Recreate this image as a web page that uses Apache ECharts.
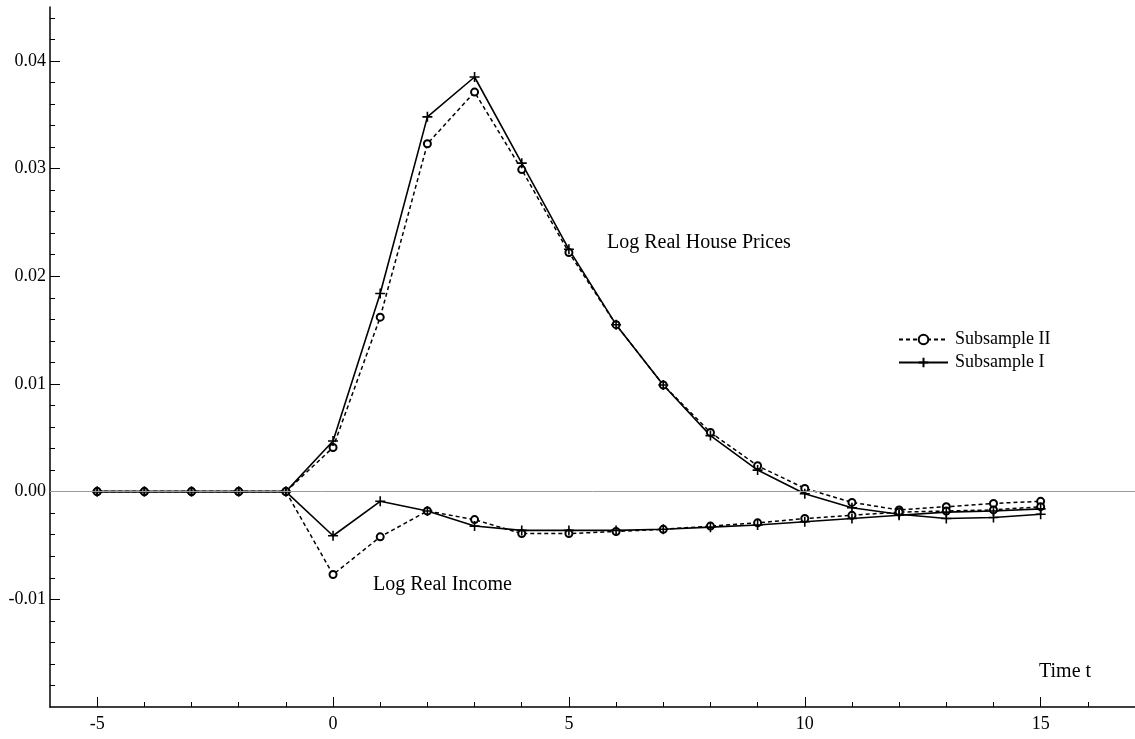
<!DOCTYPE html>
<html lang="en">
<head>
    <meta charset="UTF-8">
    <title>Impulse responses</title>
    <script src="https://cdn.jsdelivr.net/npm/echarts@6/dist/echarts.min.js"></script>
    <style>
        html, body { margin: 0; padding: 0; background: #fff; }
    </style>
</head>
<body>
<div id="main" style="width: 1135px;height: 739px"></div>
</body>

<script>
    var t = [-5, -4, -3, -2, -1, 0, 1, 2, 3, 4, 5, 6, 7, 8, 9, 10, 11, 12, 13, 14, 15];

    // log real house prices
    var houseI = [0, 0, 0, 0, 0, 0.0047, 0.0184, 0.0348, 0.0385, 0.0305, 0.0225, 0.0155, 0.0099, 0.0052, 0.0020, -0.0002, -0.0015, -0.0021, -0.0025, -0.0024, -0.0021];
    var houseII = [0, 0, 0, 0, 0, 0.0041, 0.0162, 0.0323, 0.0371, 0.0299, 0.0222, 0.0155, 0.0099, 0.0055, 0.0024, 0.0003, -0.0010, -0.0017, -0.0014, -0.0011, -0.0009];

    // log real income
    var incomeI = [0, 0, 0, 0, 0, -0.0041, -0.0009, -0.0018, -0.0032, -0.0036, -0.0036, -0.0036, -0.0035, -0.0033, -0.0031, -0.0028, -0.0025, -0.0022, -0.0019, -0.0018, -0.0016];
    var incomeII = [0, 0, 0, 0, 0, -0.0077, -0.0042, -0.0018, -0.0026, -0.0039, -0.0039, -0.0037, -0.0035, -0.0032, -0.0029, -0.0025, -0.0022, -0.0019, -0.0018, -0.0017, -0.0014];

    var xMajor = [-5, 0, 5, 10, 15];
    var xMinor = [-4, -3, -2, -1, 1, 2, 3, 4, 6, 7, 8, 9, 11, 12, 13, 14, 16];
    var yMajor = [-0.01, 0, 0.01, 0.02, 0.03, 0.04];
    var yMinor = [-0.018, -0.016, -0.014, -0.012, -0.008, -0.006, -0.004, -0.002,
        0.002, 0.004, 0.006, 0.008, 0.012, 0.014, 0.016, 0.018,
        0.022, 0.024, 0.026, 0.028, 0.032, 0.034, 0.036, 0.038, 0.042, 0.044];

    var FONT = 'Liberation Serif';
    var PLUS = 'path://M5,0 L5,10 M0,5 L10,5';

    function pairs(ys) {
        var out = [];
        for (var i = 0; i < t.length; i++) out.push([t[i], ys[i]]);
        return out;
    }

    var dashedSeries = function (data) {
        return {
            name: 'Subsample II',
            type: 'line',
            data: pairs(data),
            symbol: 'emptyCircle',
            symbolSize: 7,
            lineStyle: {color: '#000', width: 1.5, type: [4, 3]},
            itemStyle: {color: '#000', borderWidth: 1.3}
        };
    };
    var solidSeries = function (data) {
        return {
            name: 'Subsample I',
            type: 'line',
            data: pairs(data),
            symbol: PLUS,
            symbolSize: 10,
            lineStyle: {color: '#000', width: 1.6, type: 'solid'},
            itemStyle: {color: '#000', borderColor: '#000', borderWidth: 1.6}
        };
    };

    var myChart = echarts.init(document.getElementById('main'));

    var house2 = dashedSeries(houseII);
    // horizontal zero line
    house2.markLine = {
        silent: true,
        symbol: 'none',
        label: {show: false},
        lineStyle: {color: '#9a9a9a', width: 1, type: 'solid'},
        data: [{yAxis: 0}]
    };

    var option = {
        animation: false,
        backgroundColor: '#fff',
        grid: {left: 50, right: -3, top: 7, bottom: 32, containLabel: false},
        legend: {
            orient: 'vertical',
            left: 893,
            top: 323,
            itemWidth: 49,
            itemHeight: 12,
            itemGap: 0,
            data: ['Subsample II', 'Subsample I'],
            textStyle: {fontFamily: FONT, fontSize: 18, color: '#000', lineHeight: 23, padding: [0, 0, 0, 2]}
        },
        xAxis: [{
            type: 'value',
            min: -6,
            max: 17,
            position: 'bottom',
            splitLine: {show: false},
            axisLine: {show: true, onZero: false, lineStyle: {color: '#000', width: 1.5}},
            axisTick: {show: true, inside: true, length: 10, customValues: xMajor, lineStyle: {color: '#000', width: 1}},
            axisLabel: {customValues: xMajor, margin: 8, fontFamily: FONT, fontSize: 18, color: '#000'}
        }, {
            type: 'value',
            min: -6,
            max: 17,
            position: 'bottom',
            splitLine: {show: false},
            axisLine: {show: false, onZero: false},
            axisTick: {show: true, inside: true, length: 5, customValues: xMinor, lineStyle: {color: '#000', width: 1}},
            axisLabel: {show: false}
        }],
        yAxis: [{
            type: 'value',
            min: -0.02,
            max: 0.045,
            position: 'left',
            splitLine: {show: false},
            axisLine: {show: true, onZero: false, lineStyle: {color: '#000', width: 1.5}},
            axisTick: {show: true, inside: true, length: 10, customValues: yMajor, lineStyle: {color: '#000', width: 1}},
            axisLabel: {
                customValues: yMajor, margin: 4, fontFamily: FONT, fontSize: 18, color: '#000',
                formatter: function (v) {
                    return v.toFixed(2);
                }
            }
        }, {
            type: 'value',
            min: -0.02,
            max: 0.045,
            position: 'left',
            splitLine: {show: false},
            axisLine: {show: false, onZero: false},
            axisTick: {show: true, inside: true, length: 5, customValues: yMinor, lineStyle: {color: '#000', width: 1}},
            axisLabel: {show: false}
        }],
        graphic: [
            {type: 'text', left: 607, top: 233, style: {text: 'Log Real House Prices', fontFamily: FONT, fontSize: 20, fill: '#000'}},
            {type: 'text', left: 373, top: 575, style: {text: 'Log Real Income', fontFamily: FONT, fontSize: 20, fill: '#000'}},
            {type: 'text', left: 1039, top: 662, style: {text: 'Time t', fontFamily: FONT, fontSize: 20, fill: '#000'}}
        ],
        series: [
            house2,
            dashedSeries(incomeII),
            solidSeries(houseI),
            solidSeries(incomeI)
        ]
    };

    myChart.setOption(option);
</script>

</html>
